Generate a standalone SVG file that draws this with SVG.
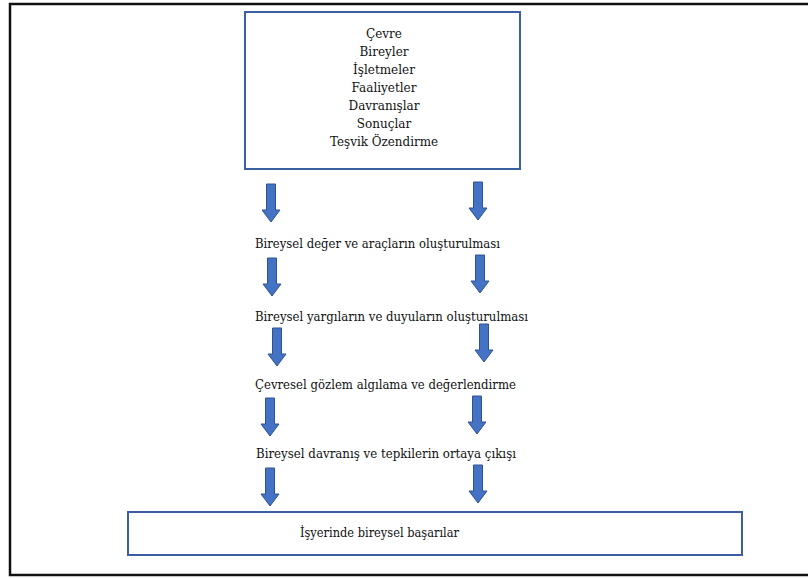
<svg xmlns="http://www.w3.org/2000/svg" width="808" height="579" viewBox="0 0 808 579">
  <defs>
    <style>
      .frame { fill: none; stroke: #111; stroke-width: 2.5; }
      .box { fill: #fff; stroke: #3b5fa0; stroke-width: 2; }
      .arrow { fill: #4472c4; stroke: #2f528f; stroke-width: 1; }
      .t { font-family: "DejaVu Serif", serif; font-size: 12.5px; fill: #111; }
      .c { text-anchor: middle; font-size: 12px; }
    </style>
    <!-- downward block arrow, 18 wide and 38 tall, origin at top-left -->
    <path id="down" d="M4.5 0 H13.5 V26 H18 L9 38 L0 26 H4.5 Z"/>
  </defs>
  <rect width="808" height="579" fill="#fff"/>
  <rect class="frame" x="10" y="4" width="810" height="571"/>

  <g id="factors">
    <rect class="box" x="245" y="12" width="275" height="157"/>
    <text class="t c" x="384" y="38">Çevre</text>
    <text class="t c" x="384" y="56">Bireyler</text>
    <text class="t c" x="384" y="74">İşletmeler</text>
    <text class="t c" x="384" y="92">Faaliyetler</text>
    <text class="t c" x="384" y="110">Davranışlar</text>
    <text class="t c" x="384" y="128">Sonuçlar</text>
    <text class="t c" x="384" y="146" textLength="108" lengthAdjust="spacingAndGlyphs">Teşvik Özendirme</text>
  </g>

  <g id="step1"><text class="t" x="255" y="248" textLength="245" lengthAdjust="spacingAndGlyphs">Bireysel değer ve araçların oluşturulması</text></g>
  <g id="step2"><text class="t" x="255" y="321" textLength="273" lengthAdjust="spacingAndGlyphs">Bireysel yargıların ve duyuların oluşturulması</text></g>
  <g id="step3"><text class="t" x="255" y="389" textLength="261" lengthAdjust="spacingAndGlyphs">Çevresel gözlem algılama ve değerlendirme</text></g>
  <g id="step4"><text class="t" x="256" y="458" textLength="260" lengthAdjust="spacingAndGlyphs">Bireysel davranış ve tepkilerin ortaya çıkışı</text></g>

  <g id="result">
    <rect class="box" x="128" y="512" width="614" height="43"/>
    <text class="t" x="300" y="537" textLength="159" lengthAdjust="spacingAndGlyphs">İşyerinde bireysel başarılar</text>
  </g>

  <g id="connectors">
    <use href="#down" class="arrow" x="262" y="184"/>
    <use href="#down" class="arrow" x="263" y="258"/>
    <use href="#down" class="arrow" x="268" y="328"/>
    <use href="#down" class="arrow" x="261" y="398"/>
    <use href="#down" class="arrow" x="261" y="468"/>
    <use href="#down" class="arrow" x="469" y="182"/>
    <use href="#down" class="arrow" x="471" y="255"/>
    <use href="#down" class="arrow" x="475" y="324"/>
    <use href="#down" class="arrow" x="468" y="396"/>
    <use href="#down" class="arrow" x="469" y="465"/>
  </g>
</svg>
